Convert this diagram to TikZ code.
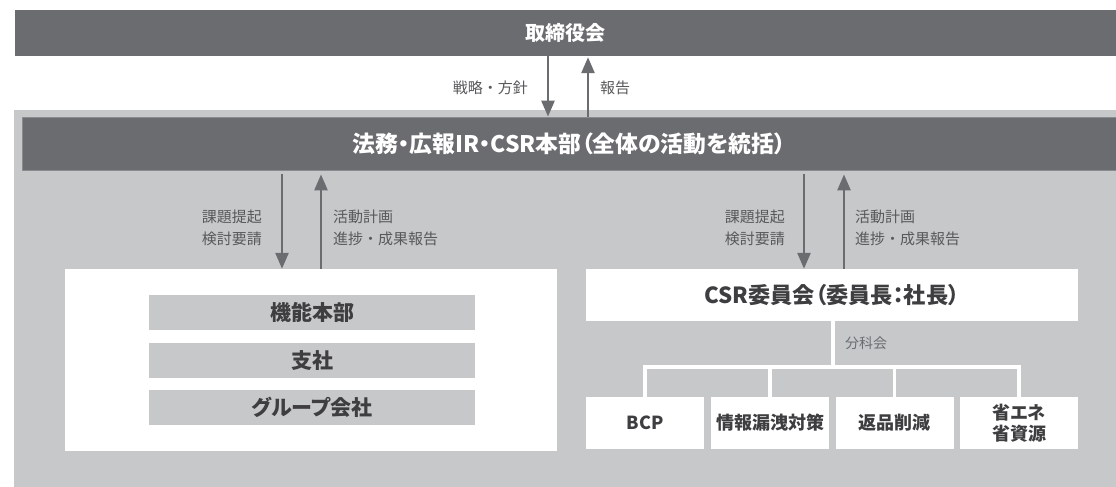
\documentclass[tikz,border=0pt]{standalone}
\usepackage{fontspec}
\setmainfont{Noto Sans CJK JP}[RawFeature=+palt]
\newfontfamily\plainjp{Noto Sans CJK JP}
\usetikzlibrary{arrows.meta}
\definecolor{darkbar}{RGB}{107,108,112}
\definecolor{bggray}{RGB}{199,200,202}
\definecolor{boxtext}{RGB}{62,62,64}
\definecolor{labeltext}{RGB}{88,89,91}
\definecolor{bordergray}{RGB}{138,139,142}
\tikzset{
  x=1pt, y=-1pt,
  darkbox/.style={fill=darkbar, text=white, inner sep=0pt, font=\bfseries},
  whitebox/.style={fill=white, text=boxtext, inner sep=0pt, font=\bfseries, align=center},
  graybox/.style={fill=bggray, text=boxtext, inner sep=0pt, font=\bfseries\fontsize{21}{24}\selectfont, minimum width=326pt, minimum height=35pt},
  subbox/.style={whitebox, minimum width=118pt, minimum height=52pt, font=\bfseries\fontsize{18}{21}\selectfont},
  lbl/.style={text=labeltext, inner sep=0pt, font=\plainjp\fontsize{15}{21.7}\selectfont},
  arr/.style={draw=darkbar, line width=2.6pt, -{Triangle[length=16pt,width=13pt]}},
  tree/.style={draw=white, line width=3.5pt, line join=miter},
}
\begin{document}
\begin{tikzpicture}
\useasboundingbox (0,0) rectangle (1116,487);
\fill[white] (0,0) rectangle (1116,487);
% background panel
\fill[bggray] (14,110) rectangle (1116,487);
% top board
\node[darkbox, minimum width=1101pt, minimum height=46pt, font=\bfseries\fontsize{20}{24}\selectfont] (board) at (565.5,33) {取締役会};
% HQ bar
\node[darkbox, draw=bordergray, line width=0.8pt, minimum width=1094pt, minimum height=53pt, font=\bfseries\fontsize{22.8}{26}\selectfont] (hq) at (569,143.5) {法務・広報IR・CSR本部（全体の活動を統括）};
% left white box
\node[whitebox, minimum width=492pt, minimum height=182pt] (left) at (311,360) {};
\node[graybox] (g1) at (312,312.5) {機能本部};
\node[graybox] (g2) at (312,360.5) {支社};
\node[graybox] (g3) at (312,407.5) {グループ会社};
% CSR committee
\node[whitebox, minimum width=492pt, minimum height=52pt, font=\bfseries\fontsize{22.2}{26}\selectfont] (csr) at (832,295) {CSR委員会（委員長：社長）};
\node[subbox] (s1) at (645,423) {BCP};
\node[subbox] (s2) at (770,423) {情報漏洩対策};
\node[subbox] (s3) at (894.5,423) {返品削減};
\node[subbox, font=\bfseries\fontsize{18}{21}\selectfont] (s4) at (1019,423) {省エネ\\省資源};
% tree
\coordinate (j) at (833,367);
\draw[tree] (csr.south -| j) -- (j);
\draw[tree] (s1.north) |- (j);
\draw[tree] (s4.north) |- (j);
\draw[tree] (s2.north) -- (s2.north |- j);
\draw[tree] (s3.north) -- (s3.north |- j);
\node[lbl, text=darkbar, font=\plainjp\fontsize{14}{17}\selectfont, anchor=west] (bunka) at (845,343) {分科会};
% arrows board <-> hq
\draw[arr] (board.south -| 548,0) -- (hq.north -| 548,0);
\draw[arr, shorten >=1pt] (hq.north -| 588,0) -- (board.south -| 588,0);
\node[lbl, anchor=east] (t1) at (528,88) {戦略・方針};
\node[lbl, anchor=west] (t2) at (600,88) {報告};
% arrows hq <-> left
\draw[arr, shorten <=4pt] (hq.south -| 282,0) -- (left.north -| 282,0);
\draw[arr, shorten >=4pt] (left.north -| 321,0) -- (hq.south -| 321,0);
\node[lbl, anchor=east, align=left] (t3) at (262,228) {課題提起\\検討要請};
\node[lbl, anchor=west, align=left] (t4) at (333,228) {活動計画\\進捗・成果報告};
% arrows hq <-> csr
\draw[arr, shorten <=4pt] (hq.south -| 804,0) -- (csr.north -| 804,0);
\draw[arr, shorten >=4pt] (csr.north -| 844,0) -- (hq.south -| 844,0);
\node[lbl, anchor=east, align=left] (t5) at (785,228) {課題提起\\検討要請};
\node[lbl, anchor=west, align=left] (t6) at (855,228) {活動計画\\進捗・成果報告};
\end{tikzpicture}
\end{document}
